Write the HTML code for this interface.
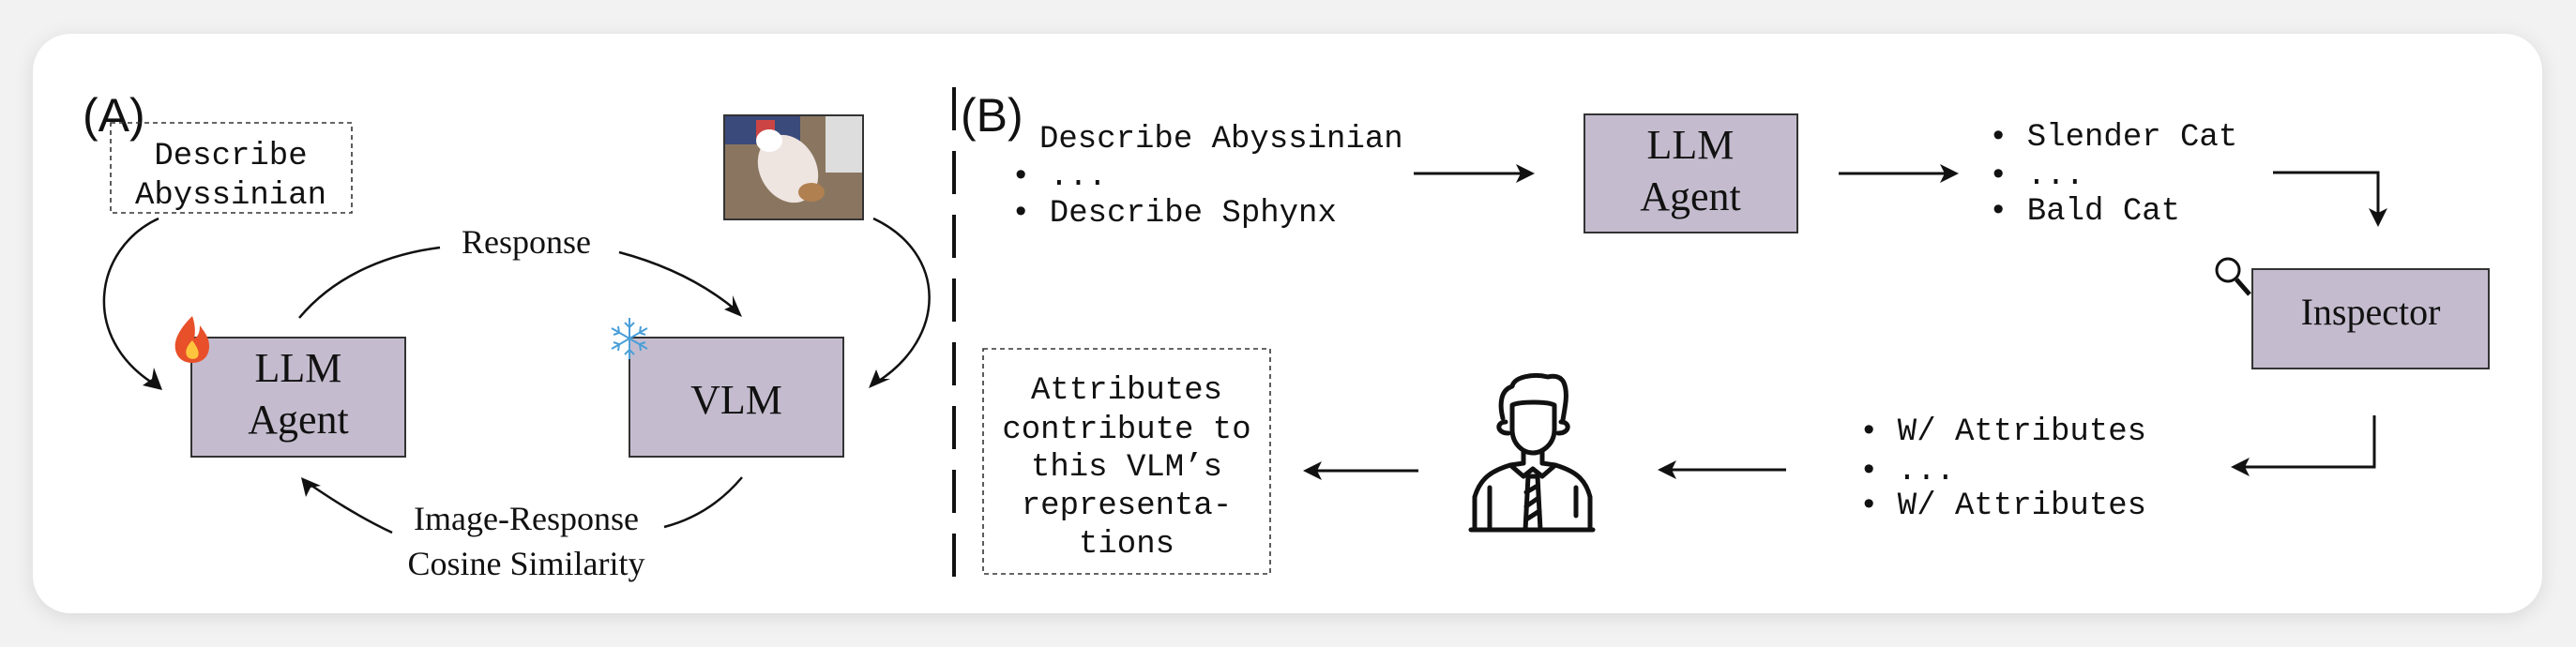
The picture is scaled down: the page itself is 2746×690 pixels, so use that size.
<!DOCTYPE html>
<html><head><style>
html,body{margin:0;padding:0;width:2746px;height:690px;overflow:hidden;background:#ededed;}
svg{display:block}
.mono{font-family:"Liberation Mono",monospace;font-size:34px;fill:#111;}
.serif{font-family:"Liberation Serif",serif;fill:#111;}
.sans{font-family:"Liberation Sans",sans-serif;fill:#111;}
</style></head><body>
<svg width="2746" height="690" viewBox="0 0 2746 690" xmlns="http://www.w3.org/2000/svg">
<defs>
<marker id="ah" markerWidth="10" markerHeight="10" refX="8" refY="5" orient="auto" markerUnits="userSpaceOnUse" viewBox="0 0 10 10">
</marker>
<filter id="sh" x="-5%" y="-10%" width="110%" height="120%"><feGaussianBlur stdDeviation="10"/></filter>
</defs>
<rect x="0" y="0" width="2746" height="690" fill="#f2f2f2"/>
<rect x="35" y="40" width="2675" height="618" rx="40" fill="#d8d8d8" filter="url(#sh)"/>
<rect x="35" y="36" width="2675" height="618" rx="40" fill="#fff"/>

<!-- (A) -->
<text x="88" y="140" class="sans" font-size="50">(A)</text>
<rect x="118" y="131" width="257" height="96" fill="none" stroke="#333" stroke-width="1.6" stroke-dasharray="5,4"/>
<text x="246" y="175" class="mono" text-anchor="middle">Describe</text>
<text x="246" y="217" class="mono" text-anchor="middle">Abyssinian</text>

<!-- cat image -->
<rect x="772" y="123" width="148" height="111" fill="#8a7660" stroke="#333" stroke-width="2"/>
<rect x="773" y="124" width="80" height="30" fill="#3a4a7a"/>
<rect x="806" y="128" width="20" height="20" fill="#c44"/>
<rect x="880" y="124" width="39" height="60" fill="#ddd"/>
<ellipse cx="840" cy="180" rx="30" ry="38" fill="#eee4e0" transform="rotate(-30 840 180)"/>
<ellipse cx="820" cy="150" rx="14" ry="12" fill="#fff"/>
<ellipse cx="865" cy="205" rx="14" ry="10" fill="#b08050"/>

<!-- boxes A -->
<rect x="204" y="360" width="228" height="127" fill="#c4bcce" stroke="#333" stroke-width="2"/>
<text x="318" y="407" class="serif" font-size="44" text-anchor="middle">LLM</text>
<text x="318" y="462" class="serif" font-size="44" text-anchor="middle">Agent</text>
<rect x="671" y="360" width="228" height="127" fill="#c4bcce" stroke="#333" stroke-width="2"/>
<text x="785" y="441" class="serif" font-size="44" text-anchor="middle">VLM</text>

<!-- fire -->
<g transform="translate(205,361)">
<path d="M0,-24 C-14,-10 -20,2 -18,12 C-16,22 -8,26 0,26 C10,26 18,20 18,8 C18,-2 12,-8 8,-14 C8,-6 6,-2 2,0 C4,-10 2,-18 0,-24Z" fill="#e8502a"/>
<path d="M0,2 C-6,8 -8,14 -6,18 C-4,23 4,23 6,19 C8,14 5,9 0,2Z" fill="#ffc53d"/>
</g>
<!-- snowflake -->
<g transform="translate(671,361)" stroke="#4a9fd8" stroke-width="2" fill="none">
<line x1="0" y1="-22" x2="0" y2="22"/>
<line x1="-19" y1="-11" x2="19" y2="11"/>
<line x1="-19" y1="11" x2="19" y2="-11"/>
<path d="M-5,-17 L0,-12 L5,-17 M-5,17 L0,12 L5,17 M-17,-4 L-11,-6 L-12,-13 M17,4 L11,6 L12,13 M-17,4 L-11,6 L-12,13 M17,-4 L11,-6 L12,-13"/>
</g>

<!-- A arrows -->
<g stroke="#111" stroke-width="2.5" fill="none">
<path d="M169,233 C100,265 85,360 165,410"/>
<path d="M319,339 C360,290 420,270 469,264"/>
<path d="M660,269 C720,285 760,310 786,332"/>
<path d="M931,233 C1010,270 1010,360 934,408"/>
<path d="M791,509 C765,540 735,555 708,562"/>
<path d="M418,568 C380,550 350,530 328,515"/>
</g>
<g fill="#111">
<polygon points="173,416 152,411 162,404 164,392"/>
<polygon points="791,338 772,330 781,326 781,315"/>
<polygon points="926,414 934,394 938,404 949,404"/>
<polygon points="321,509 326,530 331,520 342,518"/>
</g>
<text x="561" y="270" class="serif" font-size="36" text-anchor="middle">Response</text>
<text x="561" y="565" class="serif" font-size="36" text-anchor="middle">Image-Response</text>
<text x="561" y="613" class="serif" font-size="36" text-anchor="middle">Cosine Similarity</text>

<!-- divider -->
<line x1="1017" y1="93" x2="1017" y2="621" stroke="#111" stroke-width="4" stroke-dasharray="46,22"/>
<text x="1024" y="140" class="sans" font-size="50">(B)</text>

<text x="1108" y="157" class="mono">Describe Abyssinian</text>
<text x="1078" y="197" class="mono">• ...</text>
<text x="1078" y="236" class="mono">• Describe Sphynx</text>

<g stroke="#111" stroke-width="3" fill="none">
<line x1="1507" y1="185" x2="1628" y2="185"/>
<line x1="1960" y1="185" x2="2079" y2="185"/>
<polyline points="2423,184 2535,184 2535,234"/>
<polyline points="2531,443 2531,498 2386,498"/>
<line x1="1904" y1="501" x2="1775" y2="501"/>
<line x1="1512" y1="502" x2="1397" y2="502"/>
</g>
<g fill="#111">
<polygon points="1636,185 1616,175 1621,185 1616,195"/>
<polygon points="2088,185 2068,175 2073,185 2068,195"/>
<polygon points="2535,242 2525,222 2535,227 2545,222"/>
<polygon points="2378,498 2398,488 2393,498 2398,508"/>
<polygon points="1767,501 1787,491 1782,501 1787,511"/>
<polygon points="1389,502 1409,492 1404,502 1409,512"/>
</g>

<rect x="1689" y="122" width="227" height="126" fill="#c4bcce" stroke="#333" stroke-width="2"/>
<text x="1802" y="169" class="serif" font-size="44" text-anchor="middle">LLM</text>
<text x="1802" y="224" class="serif" font-size="44" text-anchor="middle">Agent</text>

<text x="2120" y="155" class="mono">• Slender Cat</text>
<text x="2120" y="196" class="mono">• ...</text>
<text x="2120" y="234" class="mono">• Bald Cat</text>

<rect x="2401" y="287" width="252" height="106" fill="#c4bcce" stroke="#333" stroke-width="2"/>
<text x="2527" y="346" class="serif" font-size="40" text-anchor="middle">Inspector</text>
<g stroke="#111" stroke-width="3" fill="none">
<circle cx="2375" cy="288" r="12"/>
<line x1="2384" y1="298" x2="2398" y2="314" stroke-width="5"/>
</g>

<text x="1982" y="469" class="mono">• W/ Attributes</text>
<text x="1982" y="511" class="mono">• ...</text>
<text x="1982" y="548" class="mono">• W/ Attributes</text>

<!-- person -->
<g transform="translate(1550,390)" stroke="#111" stroke-width="5" fill="none" stroke-linejoin="round" stroke-linecap="round">
<path d="M62,42 L62,68 C62,84 74,93 84,93 C94,93 107,84 107,68 L107,42 C100,38 70,38 62,42Z"/>
<path d="M55,60 C45,60 45,72 58,72 M114,60 C124,60 124,72 111,72"/>
<path d="M52,56 C48,40 50,26 62,22 C64,12 84,8 100,12 C108,10 114,12 117,18 C122,30 118,45 116,58"/>
<path d="M74,92 L74,104 L60,106 C40,112 28,120 22,140 L22,175 M94,92 L94,104 L108,106 C128,112 140,120 145,140 L145,175"/>
<path d="M38,130 L38,175 M130,130 L130,160"/>
<path d="M60,106 L74,118 L84,110 L94,118 L108,106"/>
<path d="M79,118 L76,175 L92,175 L89,118Z"/>
<path d="M77,135 L89,128 M77,150 L90,141 M77,164 L91,155"/>
<line x1="18" y1="175" x2="148" y2="175"/>
</g>

<rect x="1048" y="372" width="306" height="240" fill="none" stroke="#333" stroke-width="1.6" stroke-dasharray="5,4"/>
<text x="1201" y="425" class="mono" text-anchor="middle">Attributes</text>
<text x="1201" y="467" class="mono" text-anchor="middle">contribute to</text>
<text x="1201" y="507" class="mono" text-anchor="middle">this VLM’s</text>
<text x="1201" y="548" class="mono" text-anchor="middle">representa-</text>
<text x="1201" y="589" class="mono" text-anchor="middle">tions</text>
</svg>
</body></html>
